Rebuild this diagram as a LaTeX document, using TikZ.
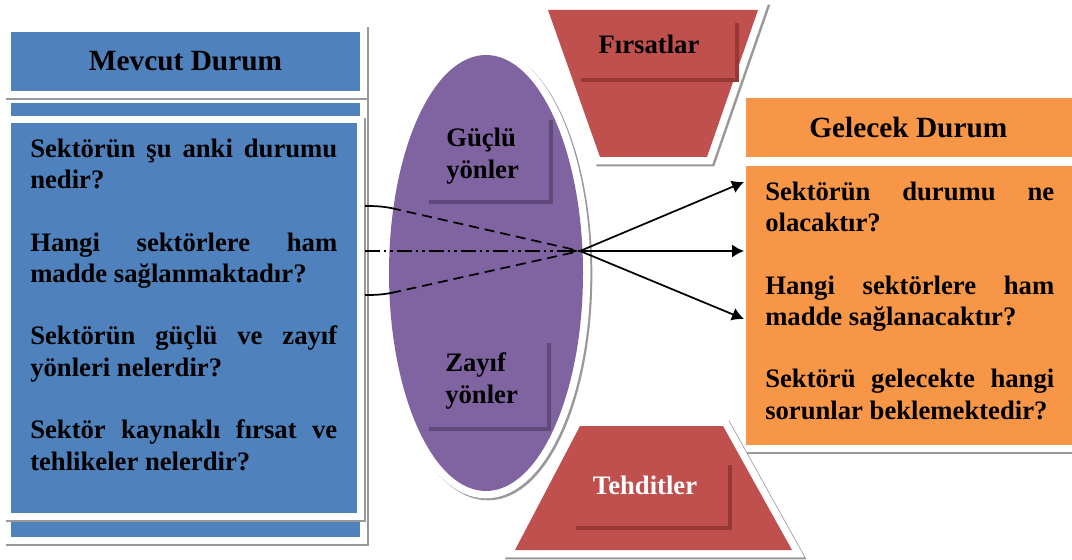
\documentclass[tikz,border=0pt]{standalone}
\usepackage{fontspec}
\setmainfont{Liberation Serif}
\usepackage{tikz}
\definecolor{mevcutblue}{RGB}{79,129,189}
\definecolor{gelecekorange}{RGB}{247,150,70}
\definecolor{swotpurple}{RGB}{128,100,162}
\definecolor{swotred}{RGB}{192,80,77}
\definecolor{purpleline}{RGB}{96,74,124}
\definecolor{redline}{RGB}{150,56,54}
\usetikzlibrary{arrows.meta, shapes.geometric}

\begin{document}
\begin{tikzpicture}[
            x=0.75pt, y=-0.75pt,
            >={Latex[width=10pt,length=9pt]},
                base/.style = {draw=none, inner sep=0pt, outer sep=0pt,
                            preaction={fill=black!40, draw=black!40, line width=11pt,
                                transform canvas={xshift=1.5pt, yshift=-1.5pt}},
                            preaction={draw=white, line width=11pt}},
                panel/.style = {base, rectangle, anchor=north west},
                header/.style = {font=\fontsize{22}{26}\selectfont\bfseries},
                question/.style = {anchor=base west, inner sep=0pt, align=justify,
                            font=\fontsize{20}{23.6}\selectfont\bfseries},
                sidetext/.style = {anchor=base west, inner sep=0pt, align=left,
                            font=\fontsize{20}{23.3}\selectfont\bfseries},
                innerline/.style = {line width=2.5pt, line cap=butt},
                connector/.style = {line width=1.3pt},
                dashlong/.style = {connector, dash pattern=on 7.5pt off 4.5pt},
                dashdots/.style = {connector, dash pattern=on 11pt off 3pt on 2pt off 3pt on 2pt off 3pt}]
            \useasboundingbox (0,0) rectangle (1072,560);
            \node (mevcutBack) [panel, fill=mevcutblue, minimum width=261.75pt, minimum height=325.5pt] at (11,103) {};
            \node (mevcutHead) [panel, header, fill=mevcutblue, minimum width=261.75pt, minimum height=44.25pt] at (11,32) {Mevcut Durum};
            \node (mevcutBody) [panel, fill=mevcutblue, minimum width=259.5pt, minimum height=292.5pt] at (11,123) {};
            \node (gelecekHead) [panel, header, fill=gelecekorange, minimum width=247.5pt, minimum height=44.25pt] at (746,98) {\hspace*{-4pt}Gelecek Durum};
            \node (gelecekBody) [panel, fill=gelecekorange, minimum width=247.5pt, minimum height=209.25pt] at (746,166) {};
            \node (guclu) [base, ellipse, fill=swotpurple, minimum width=145.5pt, minimum height=327pt] at (486,273) {};
            \path[base, fill=swotred] (548,10) -- (758,10) -- (707,157) -- (600,157) -- cycle;
            \path[base, fill=swotred] (580,426) -- (723,426) -- (792,550) -- (515,550) -- cycle;
            \draw[innerline, purpleline] (429,202) -- (551,202) -- (551,120);
            \draw[innerline, purpleline] (429,429) -- (549,429) -- (549,343);
            \draw[innerline, redline] (581,80) -- (737,80) -- (737,23);
            \draw[innerline, redline] (576,528) -- (730,528) -- (730,465);
            \node (mevcutText) [question, text width=230.25pt] at (30,157) {
                Sektörün şu anki durumu\linebreak nedir?\par\vspace{23.3pt}
                Hangi sektörlere ham\linebreak madde sağlanmaktadır?\par\vspace{23.3pt}
                Sektörün güçlü ve zayıf\linebreak yönleri nelerdir?\par\vspace{23.3pt}
                Sektör kaynaklı fırsat ve\linebreak tehlikeler nelerdir?
            };
            \node (gelecekText) [question, text width=216.75pt] at (765,200) {
                Sektörün durumu ne\linebreak olacaktır?\par\vspace{23.3pt}
                Hangi sektörlere ham\linebreak madde sağlanacaktır?\par\vspace{23.3pt}
                Sektörü gelecekte hangi\linebreak sorunlar beklemektedir?
            };
            \node (gucluText) [sidetext] at (446,178) {Güçlü\\yönler};
            \node (zayifText) [sidetext] at (445,403) {Zayıf\\yönler};
            \node (firsatText) [sidetext, anchor=base] at (649,54) {Fırsatlar};
            \node (tehditText) [sidetext, anchor=base, text=white] at (645,494) {Tehditler};
            \coordinate (focus) at (580,251);
            \coordinate (topIn) at (365,206);
            \coordinate (topBend) at (391,208);
            \coordinate (midIn) at (365,251);
            \coordinate (lowIn) at (365,295);
            \coordinate (lowBend) at (391,293);
            \coordinate (outTop) at (744,182);
            \coordinate (outMid) at (744,251);
            \coordinate (outLow) at (744,319);
            \draw[connector] (topIn) to [out=0, in=170] (topBend);
            \draw[dashlong]  (topBend) -- (focus);
            \draw[connector] (lowIn) to [out=0, in=190] (lowBend);
            \draw[dashlong]  (lowBend) -- (focus);
            \draw[dashdots, -{Latex[width=4pt,length=7pt]}] (midIn) -- (focus);
            \draw[connector, ->] (focus) -- (outTop);
            \draw[connector, ->] (focus) -- (outMid);
            \draw[connector, ->] (focus) -- (outLow);
        \end{tikzpicture}
\end{document}
